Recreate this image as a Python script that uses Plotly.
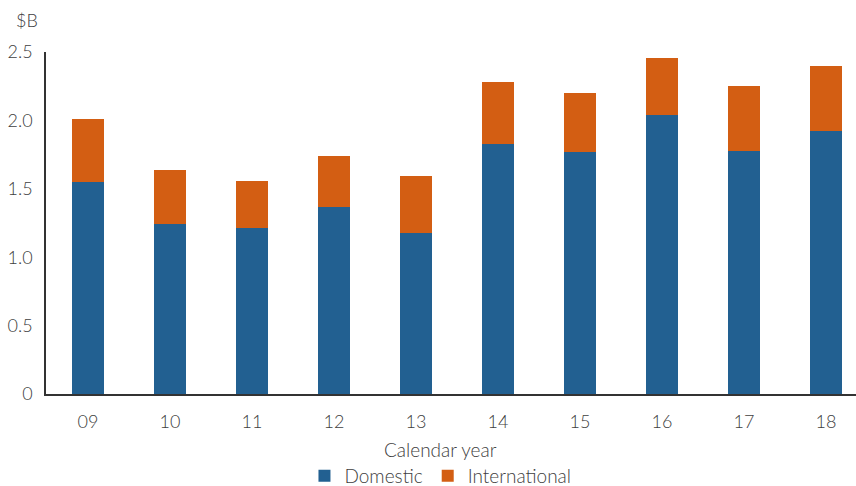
import plotly.graph_objects as go

# Calendar years (two-digit labels) and revenue split, $B
years = ["09", "10", "11", "12", "13", "14", "15", "16", "17", "18"]
domestic = [1.55, 1.24, 1.21, 1.37, 1.18, 1.83, 1.77, 2.04, 1.78, 1.92]
international = [0.46, 0.40, 0.35, 0.37, 0.415, 0.45, 0.43, 0.415, 0.47, 0.475]
y_ticks = [0, 0.5, 1.0, 1.5, 2.0, 2.5]
y_tick_text = ["0", "0.5", "1.0", "1.5", "2.0", "2.5"]

BLUE = "#226091"
ORANGE = "#D35E13"
TEXT = "#404040"
FONT = "Lato"
WEIGHT = 300


def text_font(size=18):
    return dict(family=FONT, size=size, color=TEXT, weight=WEIGHT)


x_pos = list(range(len(years)))

fig = go.Figure()
fig.add_trace(go.Bar(x=x_pos, y=domestic, name="Domestic",
                     marker=dict(color=BLUE, line=dict(width=0)), width=0.39))
fig.add_trace(go.Bar(x=x_pos, y=international, name="International",
                     marker=dict(color=ORANGE, line=dict(width=0)), width=0.39))

fig.update_layout(
    barmode="stack",
    width=856, height=486,
    margin=dict(l=46, r=0, t=52, b=92, autoexpand=False),
    paper_bgcolor="white", plot_bgcolor="white",
    font=text_font(),
    showlegend=True,
    legend=dict(orientation="h", x=0.487, xanchor="center",
                yref="container", y=0.021, yanchor="middle",
                font=text_font(19),
                itemsizing="constant", traceorder="normal"),
    xaxis=dict(
        range=[-0.512, 9.366],
        tickmode="array", tickvals=x_pos, ticktext=years,
        showgrid=False, zeroline=False,
        showline=True, linecolor="#333333", linewidth=1.5,
        ticks="", ticklabelstandoff=11, automargin=False,
        tickfont=text_font(),
        fixedrange=True,
    ),
    yaxis=dict(
        range=[0, 2.5],
        tickmode="array", tickvals=y_ticks, ticktext=y_tick_text,
        showgrid=False, zeroline=False,
        showline=True, linecolor="#333333", linewidth=1.5,
        ticks="", ticklabelstandoff=8, automargin=False,
        tickfont=text_font(),
        fixedrange=True,
    ),
    annotations=[
        dict(text="$B", xref="paper", yref="paper", x=-0.04, y=1.094,
             xanchor="left", yanchor="middle", showarrow=False,
             font=text_font()),
        dict(text="Calendar year", xref="paper", yref="paper", x=0.487, y=-0.161,
             xanchor="center", yanchor="middle", showarrow=False,
             font=text_font(19)),
    ],
)

fig.write_html("out.html")
